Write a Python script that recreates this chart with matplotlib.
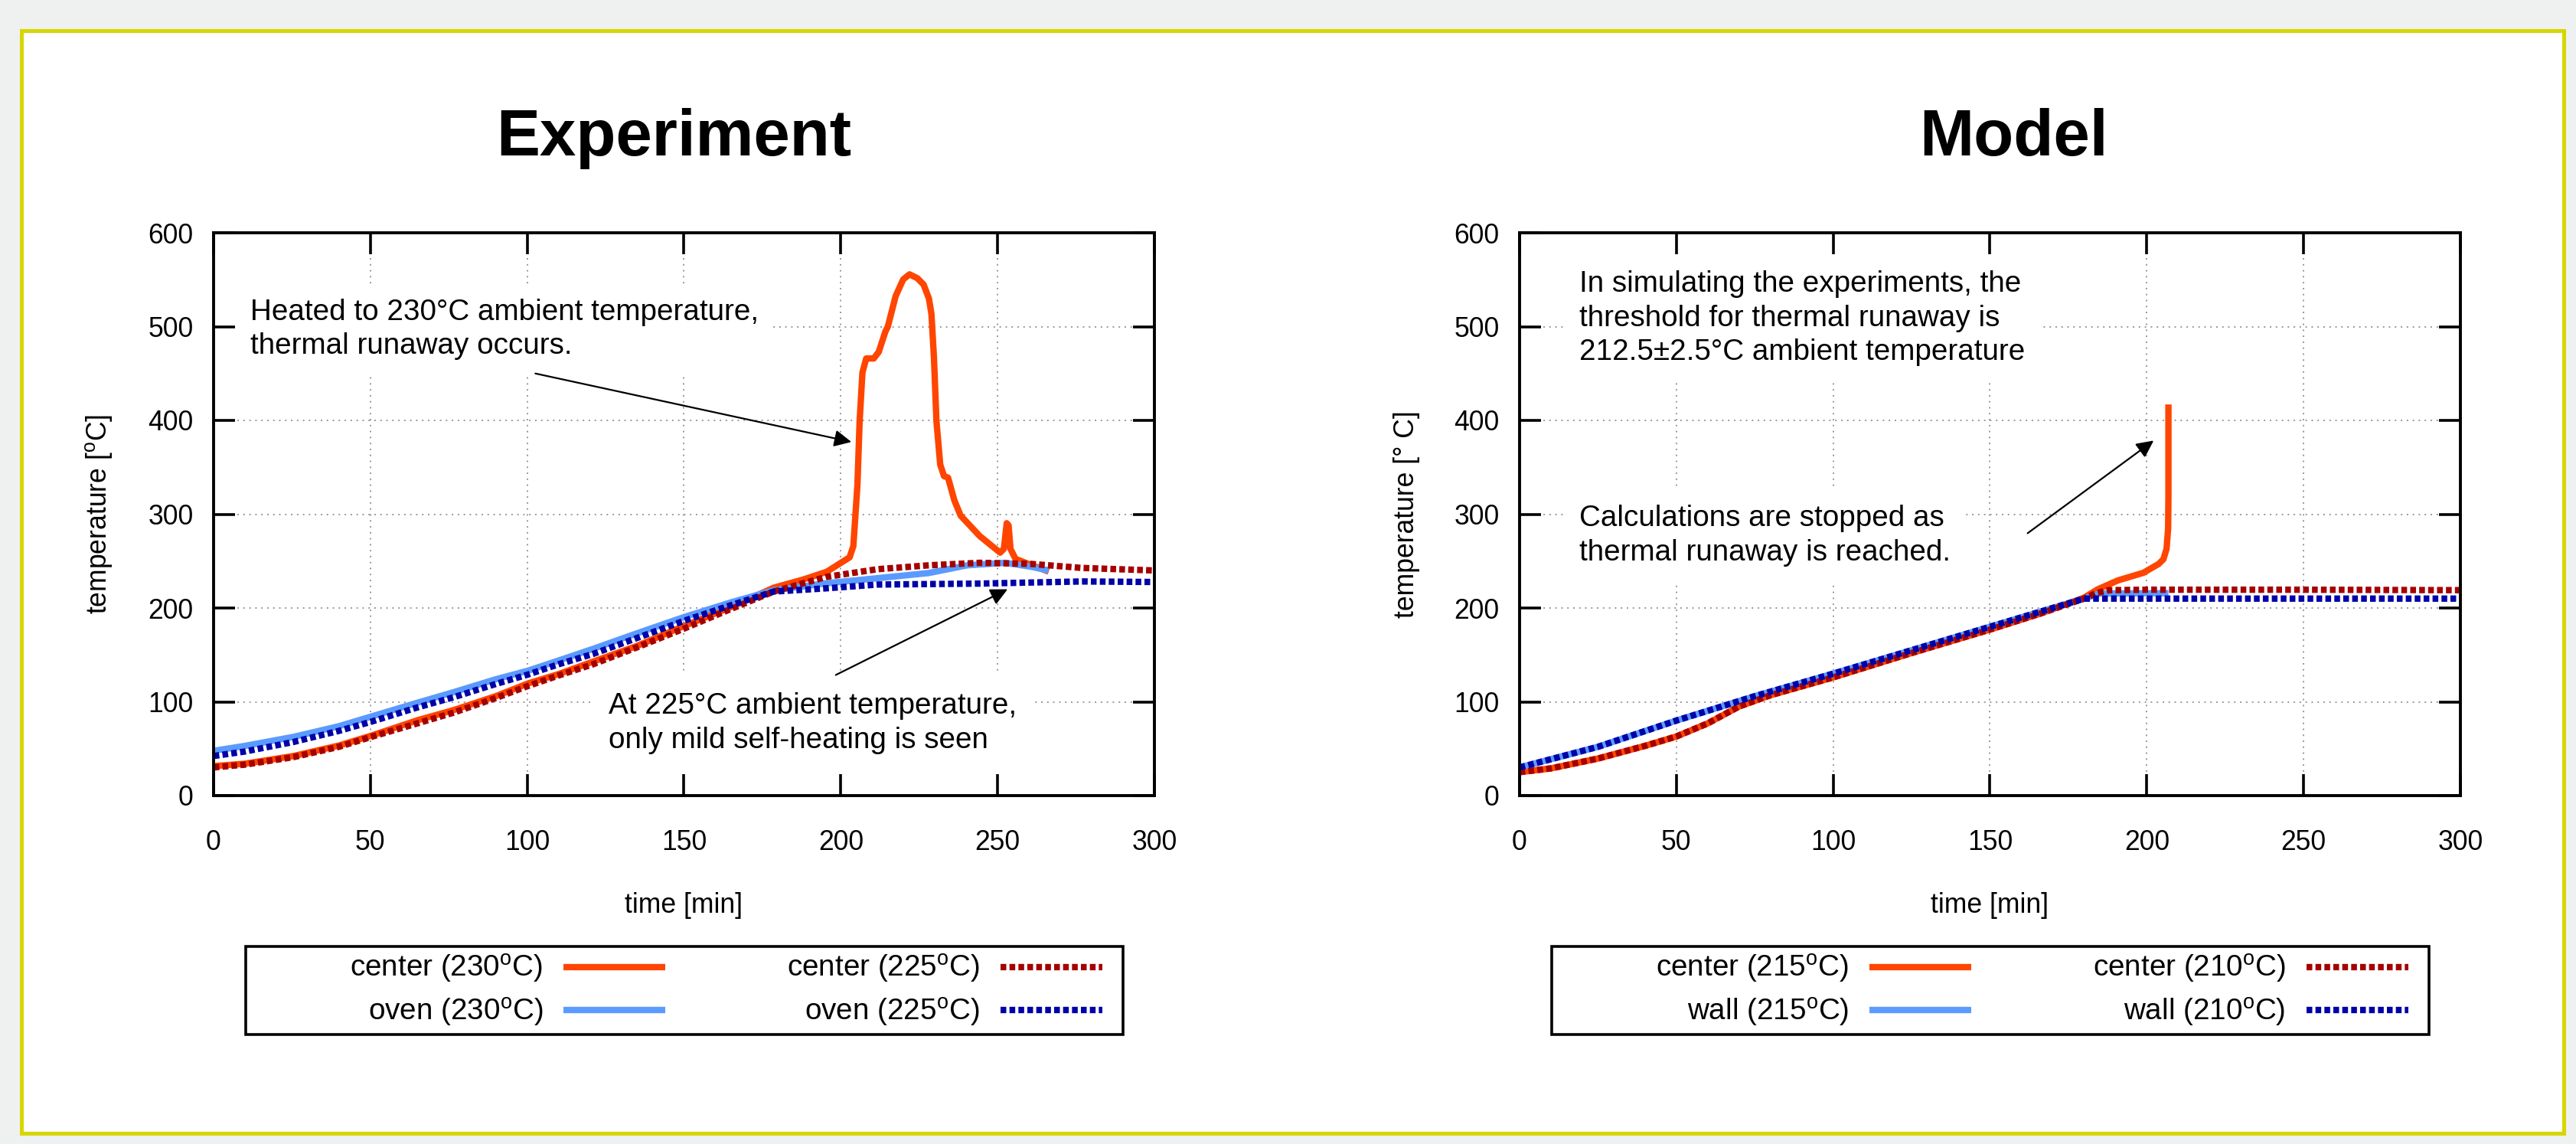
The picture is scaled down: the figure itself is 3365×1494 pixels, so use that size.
import matplotlib
matplotlib.use('Agg')
import matplotlib.pyplot as plt
from matplotlib.patches import Rectangle

plt.rcParams['font.family'] = ['Liberation Sans', 'DejaVu Sans']
plt.rcParams['mathtext.fontset'] = 'custom'
plt.rcParams['mathtext.rm'] = 'Liberation Sans'
plt.rcParams['mathtext.it'] = 'Liberation Sans:italic'
plt.rcParams['mathtext.bf'] = 'Liberation Sans:bold'

# ---------------- data: Experiment ----------------
exp_c230_t = [0, 10, 25.5, 40, 50.4, 65, 76.5, 90, 100.4, 110, 121, 135, 150, 165, 178.6, 188.2,
              195.5, 202.8, 204, 205.3, 206, 206.9, 208.1, 210.5, 212.1, 214.2, 215, 217.5, 219.9,
              221.9, 224.4, 226.4, 228.1, 228.9, 229.7, 230.5, 231.7, 232.9, 234.2, 236.2, 238.2,
              244.3, 250.8, 252, 252.9, 253.5, 254.1, 255.7, 259.8, 266.3]
exp_c230_T = [31.4, 34, 42.2, 53.4, 64, 80.3, 91.1, 106, 119.7, 129.5, 142.8, 159.5, 180.8, 201, 221.6, 230.5,
              238.6, 254, 266, 331, 399, 451, 466, 466, 473, 494.6, 500, 532.6, 550.3,
              555.7, 551.6, 544.8, 529.9, 513.5, 467.2, 399, 352.9, 340.6, 339, 314.8, 298.5,
              276.7, 259, 263, 290.4, 288, 263, 252.4, 247, 238.8]

exp_o230_t = [0, 10, 25.5, 40, 50.4, 65, 76.5, 90, 100.4, 110, 121, 135, 150, 165, 178.6, 195.5,
              211.8, 228.1, 240.3, 252.5, 260.6, 266.3]
exp_o230_T = [47.7, 53, 62.6, 74, 84.4, 99, 110.2, 124, 133.3, 144, 156.4, 173, 190.3, 206, 218.9, 226.4,
              231.8, 237.3, 245.5, 248.2, 244, 240]

exp_c225_t = [0, 10, 25.5, 40, 50.4, 65, 76.5, 90, 100.4, 110, 121, 135, 150, 165, 178.6, 188.2,
              195.5, 211.8, 228.1, 244.3, 260.6, 276.9, 300]
exp_c225_T = [30, 33, 41, 52, 62.7, 77, 88.4, 104, 117, 128, 140, 158, 178, 199, 217.5, 226.5,
              233.2, 241.4, 245.5, 248.2, 247, 242.7, 240]

exp_o225_t = [0, 10, 25.5, 40, 50.4, 65, 76.5, 90, 100.4, 110, 121, 135, 150, 165, 178.6, 195.5,
              211.8, 244, 276.9, 300]
exp_o225_T = [42.2, 47, 57.2, 69, 78.9, 94, 104.8, 119, 129.2, 140, 151, 168, 186.3, 203, 217.5, 221,
              225, 226, 228.3, 227.7]

# ---------------- data: Model ----------------
mod_c215_t = [0, 10, 25, 40, 50, 60, 70, 80, 100, 125, 150, 166, 180, 184.3, 190.8, 198.9, 203.8,
              205.3, 206.3, 206.8, 206.9, 206.9]
mod_c215_T = [25, 29, 39.5, 53, 63, 77, 95, 107, 126, 152, 177, 194, 211, 219.8, 229.4, 237.5, 247,
              252, 263, 285, 320, 417]

mod_w215_t = [0, 25, 50, 75, 100, 125, 150, 165, 180, 185, 206.9]
mod_w215_T = [30, 52, 80, 106, 130, 155, 180, 195, 210, 215.5, 215.8]

mod_c210_t = [0, 10, 25, 40, 50, 60, 70, 80, 100, 125, 150, 166, 180, 184, 188, 200, 250, 300]
mod_c210_T = [25, 29, 39.5, 53, 63, 77, 95, 107, 126, 152, 177, 194, 210, 216, 219, 219.5, 219.5, 219]

mod_w210_t = [0, 25, 50, 75, 100, 125, 150, 165, 180, 300]
mod_w210_T = [30, 52, 80, 106, 130, 155, 180, 195, 210, 210]

x_ticks = [0, 50, 100, 150, 200, 250, 300]
y_ticks = [0, 100, 200, 300, 400, 500, 600]

exp_labels = ['center (230$^{\\mathrm{o}}$C)', 'oven (230$^{\\mathrm{o}}$C)',
              'center (225$^{\\mathrm{o}}$C)', 'oven (225$^{\\mathrm{o}}$C)']
mod_labels = ['center (215$^{\\mathrm{o}}$C)', 'wall (215$^{\\mathrm{o}}$C)',
              'center (210$^{\\mathrm{o}}$C)', 'wall (210$^{\\mathrm{o}}$C)']

# ---------------- styling ----------------
ORANGE = '#ff4500'
LBLUE = '#5b9bff'
DRED = '#a50000'
DBLUE = '#0000a8'
LW = 3.0
DOT = (0, (0.9, 0.5))

W, H, DPI = 3366, 1494, 200
fig = plt.figure(figsize=(W / DPI, H / DPI), dpi=DPI, facecolor='#eff0f0')


def fx(px):
    return px / W


def fy(py):
    return 1 - py / H


# outer yellow frame (behind everything)
fig.patches.append(Rectangle((fx(28.5), fy(1479.5)), fx(3348.5) - fx(28.5), fy(40) - fy(1479.5),
                             transform=fig.transFigure, facecolor='white', edgecolor='#d6d600',
                             linewidth=1.8, zorder=-10))

AX_W = 1229
AX_H = 735
TICK_FS = 12.8
TEXT_FS = 13.9


def setup_axes(left_px, ylabel):
    ax = fig.add_axes([fx(left_px), fy(1039), AX_W / W, AX_H / H])
    ax.set_xlim(0, 300)
    ax.set_ylim(0, 600)
    ax.set_xticks(x_ticks)
    ax.set_yticks(y_ticks)
    ax.tick_params(direction='in', length=10, width=1.3, top=True, right=True,
                   labelsize=TICK_FS)
    ax.tick_params(axis='x', pad=16)
    ax.tick_params(axis='y', pad=9.5)
    for s in ax.spines.values():
        s.set_linewidth(1.4)
    ax.grid(True, color='#999999', linewidth=0.7, linestyle=(0, (1, 3)))
    ax.set_axisbelow(True)
    ax.set_xlabel('time [min]', fontsize=TICK_FS)
    ax.xaxis.set_label_coords(0.5, -0.171)
    ax.set_ylabel(ylabel, fontsize=TICK_FS)
    ax.yaxis.set_label_coords(-0.106, 0.5)
    return ax


def solid(ax, t, T, color):
    return ax.plot(t, T, color=color, lw=LW, solid_capstyle='butt', solid_joinstyle='round')[0]


def dotted(ax, t, T, color):
    return ax.plot(t, T, color=color, lw=LW, linestyle=DOT, dash_capstyle='butt')[0]


def boxed_text(ax, x, y, s, pad=0.5):
    ax.text(x, y, s, fontsize=TEXT_FS, ha='left', va='center', linespacing=1.3, zorder=3,
            bbox=dict(boxstyle='square,pad=%g' % pad, fc='white', ec='none'))


def arrow(ax, xy, xytext):
    ax.annotate('', xy=xy, xytext=xytext, zorder=4,
                arrowprops=dict(arrowstyle='-|>,head_length=0.45,head_width=0.22', mutation_scale=15,
                                color='black', lw=0.8, shrinkA=0, shrinkB=0))


def legend_box(handles, labels, shift):
    fig.patches.append(Rectangle((fx(321 + shift), fy(1351)), (1467 - 321) / W, (1351 - 1236) / H,
                                 transform=fig.transFigure, facecolor='none', edgecolor='black',
                                 linewidth=1.3, zorder=5))
    fig.legend(handles, labels, ncol=2, markerfirst=False, frameon=False, loc='center right',
               bbox_to_anchor=(fx(1440 + shift), fy(1293.5)), fontsize=TEXT_FS,
               handlelength=3.45, handletextpad=0.7, columnspacing=4.1, labelspacing=0.37,
               borderpad=0, borderaxespad=0)


# ---------------- Experiment ----------------
ax1 = setup_axes(279, 'temperature [$^{\\mathrm{o}}$C]')
h1 = solid(ax1, exp_c230_t, exp_c230_T, ORANGE)
h2 = solid(ax1, exp_o230_t, exp_o230_T, LBLUE)
h3 = dotted(ax1, exp_c225_t, exp_c225_T, DRED)
h4 = dotted(ax1, exp_o225_t, exp_o225_T, DBLUE)
boxed_text(ax1, 11.7, 497, 'Heated to 230°C ambient temperature,\nthermal runaway occurs.')
boxed_text(ax1, 126, 77, 'At 225°C ambient temperature,\nonly mild self-heating is seen', pad=0.6)
arrow(ax1, (203.4, 377), (102.6, 450))
arrow(ax1, (253.2, 220), (198.4, 128.6))
legend_box([h1, h2, h3, h4], exp_labels, 0)
fig.text(fx(880), fy(203), 'Experiment', fontsize=30.7, fontweight='bold', ha='center', va='baseline')

# ---------------- Model ----------------
ax2 = setup_axes(1985, 'temperature [° C]')
g1 = solid(ax2, mod_c215_t, mod_c215_T, ORANGE)
g2 = solid(ax2, mod_w215_t, mod_w215_T, LBLUE)
g3 = dotted(ax2, mod_c210_t, mod_c210_T, DRED)
g4 = dotted(ax2, mod_w210_t, mod_w210_T, DBLUE)
boxed_text(ax2, 19, 508.7, 'In simulating the experiments, the\nthreshold for thermal runaway is\n'
                          '212.5±2.5°C ambient temperature')
boxed_text(ax2, 19, 277, 'Calculations are stopped as\nthermal runaway is reached.')
arrow(ax2, (202.2, 378.5), (162, 279.7))
legend_box([g1, g2, g3, g4], mod_labels, 1706)
fig.text(fx(2631), fy(203), 'Model', fontsize=30.7, fontweight='bold', ha='center', va='baseline')

fig.savefig('out.png', dpi=DPI, facecolor=fig.get_facecolor())
